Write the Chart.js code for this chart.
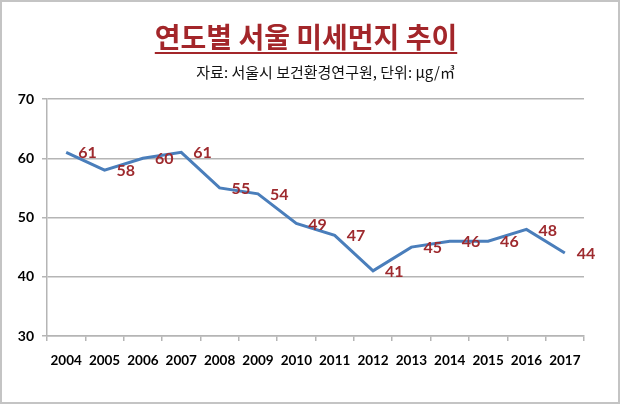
<!DOCTYPE html>
<html>
<head>
<meta charset="utf-8">
<script src="https://cdn.jsdelivr.net/npm/chart.js@4"></script>
<style>
  body { margin: 0; background: #fff; }
  #wrap { position: relative; width: 620px; height: 404px; overflow: hidden; }
  #chart { position: absolute; left: 0; top: 0; }
  #frame { position: absolute; left: 0; top: 0; width: 620px; height: 404px; box-sizing: border-box;
    border: 2px solid #c4c4c4; pointer-events: none; }
  #title { position: absolute; left: 0; width: 612px; top: 18px; text-align: center;
    font-family: "Noto Sans CJK KR", sans-serif; font-weight: bold; font-size: 28px; color: #a3262a;
    text-decoration: underline; text-decoration-thickness: 2px; text-underline-offset: 4px; line-height: 36px; }
  #subtitle { position: absolute; right: 165px; top: 62px; font-family: "Noto Sans CJK KR", sans-serif;
    font-size: 15px; color: #111; line-height: 20px; }
</style>
</head>
<body>
<div id="wrap">
  <canvas id="chart" width="620" height="404"></canvas>
  <div id="title">연도별 서울 미세먼지 추이</div>
  <div id="subtitle">자료: 서울시 보건환경연구원, 단위: μg/㎥</div>
  <div id="frame"></div>
</div>
<script>
const years = ["2004", "2005", "2006", "2007", "2008", "2009", "2010", "2011", "2012", "2013", "2014", "2015", "2016", "2017"];
const pm10 = [61, 58, 60, 61, 55, 54, 49, 47, 41, 45, 46, 46, 48, 44];

const gridColor = "#b5b5b5";

// value labels to the right of each point, Excel style
const pointLabels = {
  id: "pointLabels",
  afterDatasetsDraw(chart) {
    const ctx = chart.ctx;
    const meta = chart.getDatasetMeta(0);
    ctx.save();
    ctx.font = "bold 16px Lato, sans-serif";
    ctx.fillStyle = "#9e2a2e";
    ctx.textAlign = "left";
    ctx.textBaseline = "middle";
    meta.data.forEach((pt, i) => {
      ctx.fillText(String(pm10[i]), pt.x + 12, pt.y + 1);
    });
    ctx.restore();
  },
};

new Chart(document.getElementById("chart"), {
  type: "line",
  data: {
    labels: years,
    datasets: [
      {
        data: pm10,
        borderColor: "#4a7ebb",
        borderWidth: 3,
        tension: 0,
        pointRadius: 0,
        fill: false,
      },
    ],
  },
  options: {
    responsive: false,
    animation: false,
    devicePixelRatio: 1,
    layout: { padding: { top: 99, right: 36, left: 0, bottom: 0 } },
    plugins: {
      legend: { display: false },
      tooltip: { enabled: false },
    },
    scales: {
      x: {
        offset: true,
        afterFit: (scale) => { scale.height = 68; },
        grid: { offset: true, drawOnChartArea: false, drawTicks: true, tickLength: 5, color: gridColor, lineWidth: 1.5 },
        border: { color: gridColor, width: 1.5 },
        ticks: { color: "#000", padding: 12, maxRotation: 0, font: { family: "Lato", weight: "bold", size: 13.5 } },
      },
      y: {
        min: 30,
        max: 70,
        afterFit: (scale) => { scale.width = 47; },
        grid: { color: gridColor, lineWidth: 1.5, tickLength: 5 },
        border: { color: gridColor, width: 1.5 },
        ticks: { stepSize: 10, color: "#000", padding: 8, font: { family: "Lato", weight: "bold", size: 14 } },
      },
    },
  },
  plugins: [pointLabels],
});
</script>
</body>
</html>
